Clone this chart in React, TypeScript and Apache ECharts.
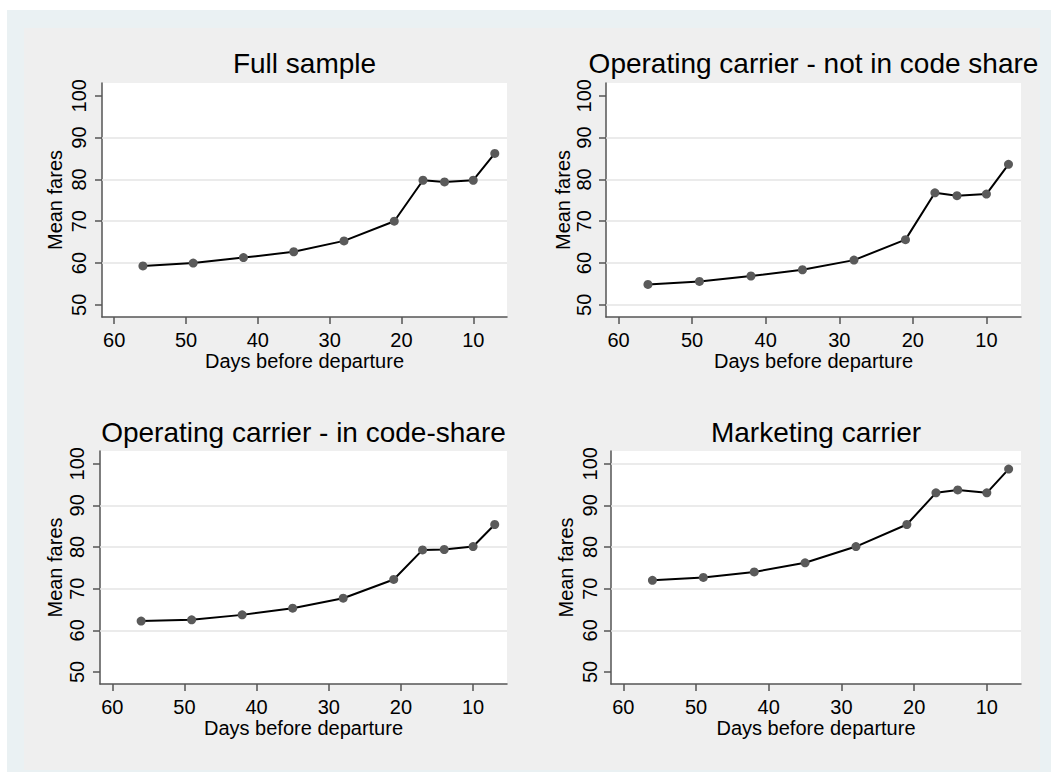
import { useEffect, useRef } from "react";
import * as echarts from "echarts";

// ---- data ----
const days = [56, 49, 42, 35, 28, 21, 17, 14, 10, 7];
const fullSample = [59.3, 60.0, 61.3, 62.7, 65.3, 70.0, 79.8, 79.4, 79.8, 86.2];
const notInCodeShare = [54.9, 55.6, 56.9, 58.4, 60.7, 65.6, 76.8, 76.1, 76.5, 83.6];
const inCodeShare = [62.2, 62.5, 63.7, 65.3, 67.7, 72.2, 79.3, 79.4, 80.1, 85.4];
const marketingCarrier = [72.0, 72.7, 74.0, 76.2, 80.1, 85.4, 93.0, 93.7, 93.0, 98.7];

const panelTitles = [
  "Full sample",
  "Operating carrier - not in code share",
  "Operating carrier - in code-share",
  "Marketing carrier",
];
const panelValues = [fullSample, notInCodeShare, inCodeShare, marketingCarrier];
const xTicks = [10, 20, 30, 40, 50, 60];
const yTicks = [50, 60, 70, 80, 90, 100];
const gridLineValues = [
  [60, 70, 80, 90],
  [50, 60, 70, 80, 90],
  [60, 70, 80, 90],
  [60, 70, 80, 90, 100],
];
const xAxisTitle = "Days before departure";
const yAxisTitle = "Mean fares";

// ---- layout / style ----
const FONT = '"Liberation Sans", Arial, Helvetica, sans-serif';
const panels = [
  { left: 102, top: 83, width: 405, height: 234, yNameGap: 37, yMargin: 13, titleY: 63 },
  { left: 606, top: 83, width: 415, height: 234, yNameGap: 30, yMargin: 12, titleY: 63 },
  { left: 100, top: 451, width: 407, height: 233, yNameGap: 35, yMargin: 13, titleY: 432 },
  { left: 611, top: 451, width: 410, height: 233, yNameGap: 35, yMargin: 11, titleY: 432 },
];
const axisColor = "#555555";
const textColor = "#000000";

function buildOption() {
  const grid = panels.map((p) => ({
    left: p.left,
    top: p.top,
    width: p.width,
    height: p.height,
    show: true,
    backgroundColor: "#ffffff",
    borderWidth: 0,
  }));

  const xAxis = panels.map((_, i) => ({
    gridIndex: i,
    type: "value",
    inverse: true,
    min: 5.3,
    max: 61.7,
    axisLine: { show: true, onZero: false, lineStyle: { color: axisColor, width: 1.5 } },
    axisTick: { show: true, length: 7, customValues: xTicks, lineStyle: { color: axisColor, width: 1.5 } },
    axisLabel: {
      customValues: xTicks,
      fontSize: 20,
      color: textColor,
      fontFamily: FONT,
      margin: 13,
      formatter: (v: number) => (v % 10 === 0 ? String(v) : ""),
    },
    splitLine: { show: false },
    name: xAxisTitle,
    nameLocation: "middle",
    nameGap: 31,
    nameTextStyle: { fontSize: 20, color: textColor, fontFamily: FONT },
  }));

  const yAxis = panels.map((p, i) => ({
    gridIndex: i,
    type: "value",
    min: 47.1,
    max: 103.05,
    axisLine: { show: true, onZero: false, lineStyle: { color: axisColor, width: 1.5 } },
    axisTick: { show: true, length: 7, customValues: yTicks, lineStyle: { color: axisColor, width: 1.5 } },
    axisLabel: {
      customValues: yTicks,
      rotate: 90,
      fontSize: 20,
      color: textColor,
      fontFamily: FONT,
      margin: p.yMargin,
      formatter: (v: number) => (v % 10 === 0 ? String(v) : ""),
    },
    splitLine: { show: false },
    name: yAxisTitle,
    nameLocation: "middle",
    nameRotate: 90,
    nameGap: p.yNameGap,
    nameTextStyle: { fontSize: 20, color: textColor, fontFamily: FONT },
  }));

  const series: any[] = [];
  panels.forEach((_, i) => {
    series.push({
      type: "line",
      xAxisIndex: i,
      yAxisIndex: i,
      data: [],
      z: 1,
      silent: true,
      markLine: {
        silent: true,
        z: 1,
        symbol: ["none", "none"],
        label: { show: false },
        lineStyle: { color: "#e4e4e4", width: 1.5, type: "solid" },
        data: gridLineValues[i].map((v) => ({ yAxis: v })),
      },
    });
    series.push({
      type: "line",
      xAxisIndex: i,
      yAxisIndex: i,
      z: 3,
      data: days.map((d, j) => [d, panelValues[i][j]]),
      symbol: "circle",
      symbolSize: 9,
      showSymbol: true,
      itemStyle: { color: "#5a5a5a" },
      lineStyle: { color: "#000000", width: 2 },
    });
  });

  const graphic = panels.map((p, i) => ({
    type: "text",
    x: p.left + p.width / 2,
    y: p.titleY,
    style: {
      text: panelTitles[i],
      fontSize: 28,
      fontFamily: FONT,
      fill: textColor,
      textAlign: "center",
      textVerticalAlign: "middle",
    },
  }));

  return {
    animation: false,
    grid,
    xAxis,
    yAxis,
    series,
    graphic,
  };
}

export default function App() {
  const ref = useRef<HTMLDivElement>(null);
  useEffect(() => {
    const chart = echarts.init(ref.current!, null, { renderer: "svg" });
    chart.setOption(buildOption() as any);
    return () => chart.dispose();
  }, []);
  return (
    <div style={{ position: "fixed", left: 0, top: 0, width: 1051, height: 772, background: "#ffffff" }}>
      <div style={{ position: "absolute", left: 7, top: 10, width: 1044, height: 762, background: "#eaf1f3" }} />
      <div style={{ position: "absolute", left: 24, top: 28, width: 1016, height: 742, background: "#efefef" }} />
      <div ref={ref} style={{ position: "absolute", left: 0, top: 0, width: 1051, height: 772 }} />
    </div>
  );
}
